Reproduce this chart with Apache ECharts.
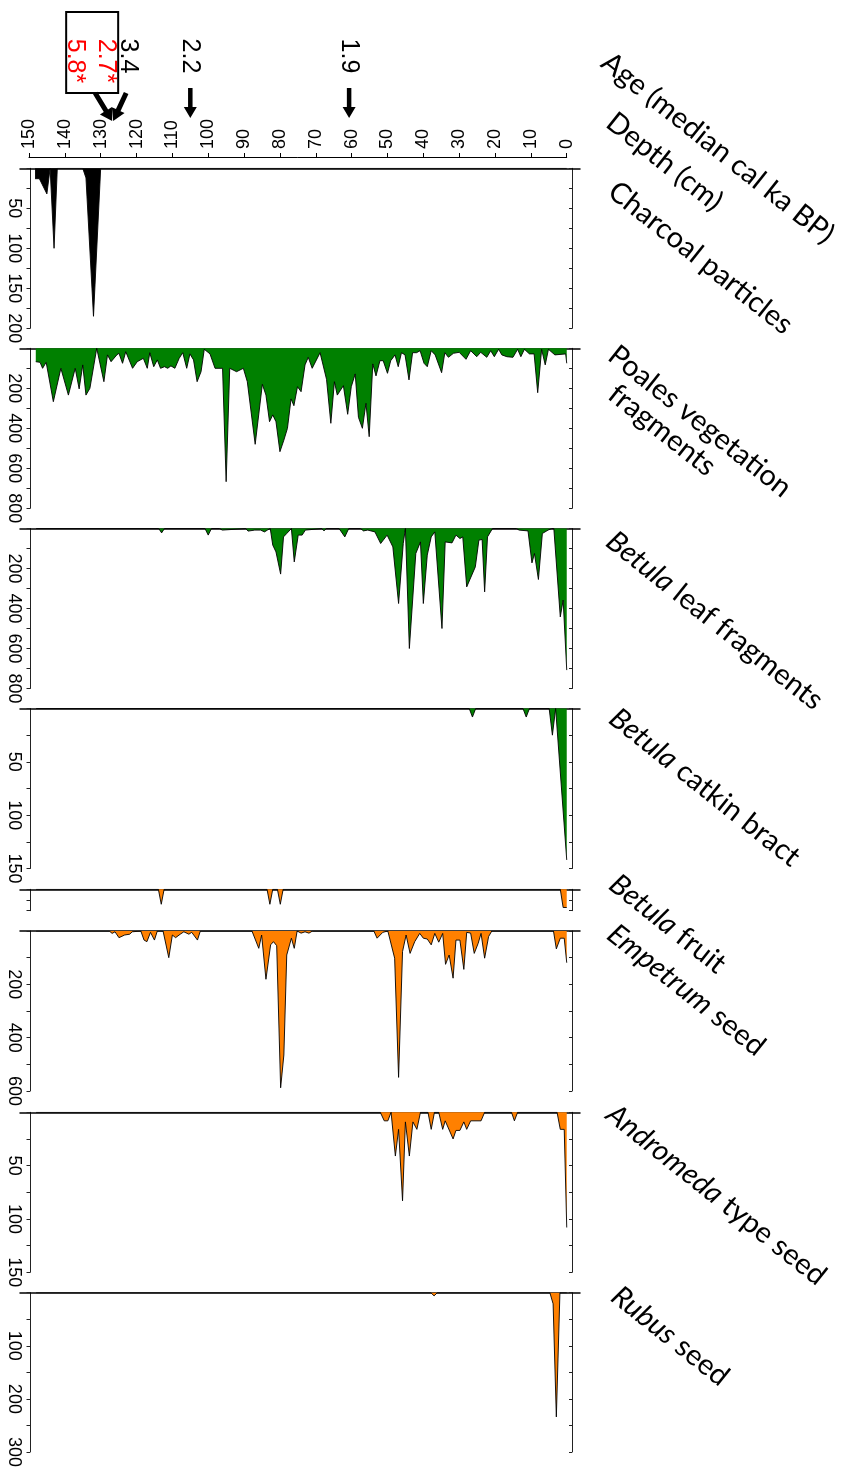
<!DOCTYPE html>
<html>
<head>
<meta charset="utf-8">
<script src="https://cdn.jsdelivr.net/npm/echarts@6/dist/echarts.min.js"></script>
<style>
  html, body { margin: 0; padding: 0; background: #fff; }
  #main { width: 845px; height: 1470px; }
</style>
</head>
<body>
<div id="main"></div>
<script>
// [depth cm, value] pairs
var charcoal = [[148.3,13],[147.1,13],[145.0,32],[144.1,0],[143.0,100],[142.1,0],[135.0,0],[134.1,12],[132.0,185],[130.0,0],[0,0]];

var poales = [[148.1,67],[146.9,70],[146.2,100],[145.2,70],[143.2,267],[141.1,100],[139.0,234],[137.1,100],[136.0,203],[135.0,83],
  [134.1,234],[133.0,200],[131.1,0],[129.1,167],[128.1,33],[127.1,67],[125.5,33],[124.9,25],[123.9,75],[123.0,17],
  [121.1,100],[119.8,67],[118.1,50],[117.0,100],[116.3,22],[115.2,92],[114.2,58],[113.3,100],[112.2,92],[111.3,100],
  [110.4,88],[109.3,100],[108.1,50],[107.1,22],[106.0,100],[105.1,28],[104.1,58],[103.1,167],[102.0,117],[101.1,5],
  [99.5,28],[98.1,100],[96.0,100],[95.0,667],[94.0,100],[92.1,117],[90.2,100],[89.1,167],[86.9,480],[84.9,180],
  [83.9,234],[82.9,367],[82.0,333],[81.1,367],[80.0,517],[78.9,459],[77.9,400],[76.9,253],[76.1,287],[75.1,192],
  [74.1,217],[73.0,83],[72.1,45],[71.0,100],[68.8,22],[67.0,155],[65.8,375],[64.8,167],[64.0,234],[62.3,187],
  [61.1,330],[60.1,192],[59.0,128],[58.1,345],[57.0,400],[56.0,275],[55.1,442],[54.1,78],[53.2,138],[52.1,62],
  [51.2,62],[50.0,125],[49.1,62],[47.9,33],[47.0,92],[46.1,22],[45.1,33],[44.0,158],[43.0,22],[41.9,22],
  [40.9,12],[39.8,75],[38.9,92],[37.8,12],[36.7,33],[34.9,122],[34.0,22],[33.0,45],[31.6,25],[30.0,20],
  [28.1,55],[26.8,12],[25.1,42],[24.0,20],[22.3,45],[21.2,12],[20.2,42],[19.0,5],[18.1,33],[16.7,42],
  [15.0,45],[13.7,5],[12.8,42],[11.8,5],[10.4,28],[9.1,28],[8.1,222],[7.0,5],[6.0,83],[5.1,5],
  [3.3,33],[0.3,28],[0,75]];

var betulaLeaf = [[148,0],[113.8,0],[113.0,22],[112.2,0],[100.9,0],[100.0,33],[99.1,0],[96.8,0],[96.1,8],[89.5,0],
  [88.9,13],[87.0,8],[85.4,8],[84.3,17],[83.5,8],[82.7,0],[82.0,83],[81.1,117],[79.8,228],[79.0,42],
  [78.1,25],[76.8,0],[76.0,167],[74.9,33],[73.8,33],[72.9,8],[68.3,0],[67.7,12],[67.1,0],[63.5,0],
  [61.9,42],[60.8,0],[57.5,0],[56.7,12],[55.5,8],[53.5,17],[51.9,75],[50.1,33],[48.5,92],[46.9,375],
  [45.6,75],[45.0,0],[43.9,600],[42.1,125],[40.8,67],[40.0,375],[38.9,133],[37.8,42],[36.8,17],[34.8,500],
  [33.9,67],[32.0,72],[30.9,33],[29.8,50],[29.0,42],[27.9,292],[25.5,192],[24.5,58],[23.6,55],[22.9,317],
  [22.1,42],[20.7,0],[14.0,0],[13.3,8],[10.8,12],[9.7,172],[9.0,125],[7.9,255],[6.8,25],[5.2,8],
  [4.2,0],[3.6,0],[1.8,442],[1.0,358],[0,708]];

var betulaCatkin = [[148,0],[27.2,0],[26.3,8],[25.4,0],[12.2,0],[11.3,8],[10.4,0],[4.9,0],[4.0,25],[3.1,0],[2.6,0],[0,142]];

var betulaFruit = [[148,0],[113.9,0],[113.1,1.4],[112.3,0],[83.6,0],[82.8,1.4],[82.0,0],[80.7,0],[79.9,1.4],[79.1,0],[1.8,0],[1.0,1.7],[0,1.7]];

var empetrum = [[148,0],[127.6,0],[126.8,9],[126.0,3],[124.9,25],[123.3,15],[121.9,12],[121.2,3],[120.7,0],[118.8,0],
  [117.9,34],[117.1,40],[116.1,5],[115.0,34],[114.2,0],[112.6,0],[111.0,100],[110.0,15],[109.1,25],[107.8,12],
  [106.8,3],[105.4,12],[104.6,5],[103.0,34],[102.2,0],[87.8,0],[85.9,65],[85.1,15],[83.9,181],[82.6,52],
  [81.8,40],[80.9,55],[79.8,588],[78.9,465],[78.1,90],[76.8,27],[76.0,65],[75.2,0],[74.1,8],[73.0,3],
  [71.9,8],[70.9,0],[53.8,0],[52.9,27],[51.3,5],[49.9,0],[48.0,102],[46.9,549],[45.8,77],[44.8,15],
  [43.7,84],[42.4,40],[41.0,9],[40.0,27],[38.9,30],[37.8,52],[36.8,9],[35.7,42],[34.6,9],[33.8,125],
  [32.8,90],[31.7,177],[30.9,34],[29.8,34],[28.7,144],[27.9,5],[26.8,8],[25.8,84],[24.7,46],[23.9,9],
  [22.9,102],[21.8,21],[20.9,0],[3.7,0],[2.9,67],[1.8,27],[0.7,27],[0,119]];

var andromeda = [[148,0],[52.0,0],[50.9,8],[49.9,8],[49.0,0],[48.5,0],[47.8,41],[46.9,16],[45.8,83],[45.0,9],
  [43.9,41],[42.9,9],[41.8,16],[40.8,0],[38.7,0],[37.8,16],[36.9,0],[35.7,0],[34.6,16],[33.9,8],
  [31.7,25],[30.9,17],[29.8,17],[28.7,9],[27.9,16],[26.8,8],[23.9,8],[22.9,0],[15.4,0],[14.6,8],
  [13.7,0],[2.7,0],[1.8,16],[0.7,16],[0,108]];

var rubus = [[148,0],[37.9,0],[37.0,6],[36.1,0],[4.7,0],[3.8,21],[2.9,234],[1.9,0],[0,0]];

// age control points (depth of arrow tip, label)
var ageDepths = [126.8, 105.0, 60.7];
var ageLabels = ['3.4', '2.2', '1.9'];
var rejectedAges = ['2.7*', '5.8*'];

var panelTitles = [
  'Age (median cal ka BP)', 'Depth (cm)', 'Charcoal particles',
  'Poales vegetation', 'fragments', '{i|Betula} leaf fragments', '{i|Betula} catkin bract',
  '{i|Betula} fruit', '{i|Empetrum} seed', '{i|Andromeda} type seed', '{i|Rubus} seed'
];

// layout of the panels
var GREEN = '#008000', ORANGE = '#ff8000';
var panels = [
  { data: charcoal, top: 168.3, height: 160, max: 200, tick: 25, label: 50, color: '#000000' },
  { data: poales, top: 348.3, height: 160, max: 800, tick: 100, label: 200, color: GREEN },
  { data: betulaLeaf, top: 528.5, height: 160, max: 800, tick: 100, label: 200, color: GREEN },
  { data: betulaCatkin, top: 708.5, height: 160, max: 150, tick: 25, label: 50, color: GREEN },
  { data: betulaFruit, top: 889.3, height: 21.4, max: 2, tick: 1, label: 0, color: ORANGE },
  { data: empetrum, top: 931, height: 160, max: 600, tick: 100, label: 200, color: ORANGE },
  { data: andromeda, top: 1112.3, height: 160, max: 150, tick: 25, label: 50, color: ORANGE },
  { data: rubus, top: 1292.7, height: 160, max: 300, tick: 50, label: 100, color: ORANGE }
];
var titlePos = [[614, 47], [619, 107], [621, 176], [621, 340], [621, 379], [619, 526], [622, 703],
  [622, 869], [620, 919], [619, 1099], [624, 1281]];

var AXIS_FONT = 'Liberation Sans';
var chart = echarts.init(document.getElementById('main'));

var grid = [{ left: 29, right: 845 - 566.7, top: 157, height: 2 }];
var xAxis = [{
  gridIndex: 0, type: 'value', min: 0, max: 150, interval: 10, inverse: true, position: 'top',
  axisLine: { onZero: false, lineStyle: { color: '#000', width: 1 } },
  axisTick: { length: 4, lineStyle: { color: '#000' } },
  axisLabel: { rotate: -90, margin: 8, fontSize: 18, fontFamily: AXIS_FONT, color: '#000' },
  splitLine: { show: false }
}];
var yAxis = [{ gridIndex: 0, type: 'value', min: 0, max: 1, show: false }];
var series = [];

panels.forEach(function (p, i) {
  grid.push({ left: 20, right: 265, top: p.top, height: p.height });
  xAxis.push({
    gridIndex: i + 1, type: 'value', min: -3.7, max: 152.5, inverse: true, position: 'top',
    axisLine: { onZero: false, lineStyle: { color: '#000', width: 1.5 } },
    axisTick: { show: false }, axisLabel: { show: false }, splitLine: { show: false }
  });
  var step = p.label;
  yAxis.push({
    gridIndex: i + 1, type: 'value', min: 0, max: p.max, interval: p.tick, inverse: true,
    position: 'left', offset: -10,
    axisLine: { show: true, onZero: false, lineStyle: { color: '#222', width: 1 } },
    axisTick: { show: true, length: 3.5, lineStyle: { color: '#222' } },
    axisLabel: {
      show: step > 0, rotate: -90, margin: 7, fontSize: 18, fontFamily: AXIS_FONT, color: '#000',
      formatter: function (v) { return (v > 0 && v % step === 0) ? String(v) : ''; }
    },
    splitLine: { show: false }
  });
  yAxis.push({
    gridIndex: i + 1, type: 'value', min: 0, max: p.max, interval: p.tick, inverse: true,
    position: 'right', offset: -8,
    axisLine: { show: true, onZero: false, lineStyle: { color: '#222', width: 1 } },
    axisTick: { show: true, inside: true, length: 3, lineStyle: { color: '#222' } },
    axisLabel: { show: false }, splitLine: { show: false }
  });
  series.push({
    type: 'line', xAxisIndex: i + 1, yAxisIndex: 2 * i + 1, data: p.data,
    symbol: 'none', silent: true,
    lineStyle: { color: '#000', width: 0.9 },
    areaStyle: { color: p.color, opacity: 1 }
  });
});

chart.setOption({
  animation: false,
  grid: grid, xAxis: xAxis, yAxis: yAxis, series: series
});

// annotations and panel titles
var ROT = -38.5 * Math.PI / 180;
var graphics = [];
panelTitles.forEach(function (t, i) {
  graphics.push({
    type: 'text', x: titlePos[i][0], y: titlePos[i][1], rotation: ROT,
    style: {
      text: t, fontSize: 29, fontFamily: 'Lato', fill: '#000', align: 'left', verticalAlign: 'top',
      rich: { i: { fontStyle: 'italic', fontSize: 29, fontFamily: 'Lato', fill: '#000' } }
    }
  });
});

function arrow(x0, y0, x1, y1, sw, hw, hl) {
  var dx = x1 - x0, dy = y1 - y0, len = Math.sqrt(dx * dx + dy * dy);
  var ux = dx / len, uy = dy / len, nx = -uy, ny = ux;
  var bx = x1 - ux * hl, by = y1 - uy * hl;
  return {
    type: 'polygon',
    shape: { points: [
      [x0 + nx * sw / 2, y0 + ny * sw / 2], [bx + nx * sw / 2, by + ny * sw / 2], [bx + nx * hw / 2, by + ny * hw / 2],
      [x1, y1], [bx - nx * hw / 2, by - ny * hw / 2], [bx - nx * sw / 2, by - ny * sw / 2], [x0 - nx * sw / 2, y0 - ny * sw / 2]
    ] },
    style: { fill: '#000' }
  };
}
function vText(txt, x, y, color) {
  return {
    type: 'text', x: x, y: y, rotation: -Math.PI / 2, z: 10,
    style: { text: txt, fontSize: 25, fontFamily: AXIS_FONT, fill: color, align: 'center', verticalAlign: 'middle' }
  };
}

var tips = ageDepths.map(function (d) { return chart.convertToPixel({ xAxisIndex: 0 }, d); });
// first marker: two converging arrows, one from the box of rejected ages
var t0 = tips[0];
graphics.push({ type: 'rect', shape: { x: t0 - 46, y: 12, width: 52, height: 81 }, style: { fill: 'none', stroke: '#000', lineWidth: 2 } });
graphics.push(vText(rejectedAges[0], t0 - 6, 61, '#ff0000'));
graphics.push(vText(rejectedAges[1], t0 - 37, 61, '#ff0000'));
graphics.push(vText(ageLabels[0], t0 + 15.5, 56, '#000'));
graphics.push(arrow(t0 - 17, 93, t0, 121, 5, 14, 12));
graphics.push(arrow(t0 + 14, 93, t0 + 1, 121, 5, 14, 12));
for (var k = 1; k < tips.length; k++) {
  graphics.push(vText(ageLabels[k], tips[k], 56, '#000'));
  graphics.push(arrow(tips[k], 88, tips[k], 118, 4.5, 13, 11));
}

chart.setOption({ graphic: graphics });
</script>
</body>
</html>
